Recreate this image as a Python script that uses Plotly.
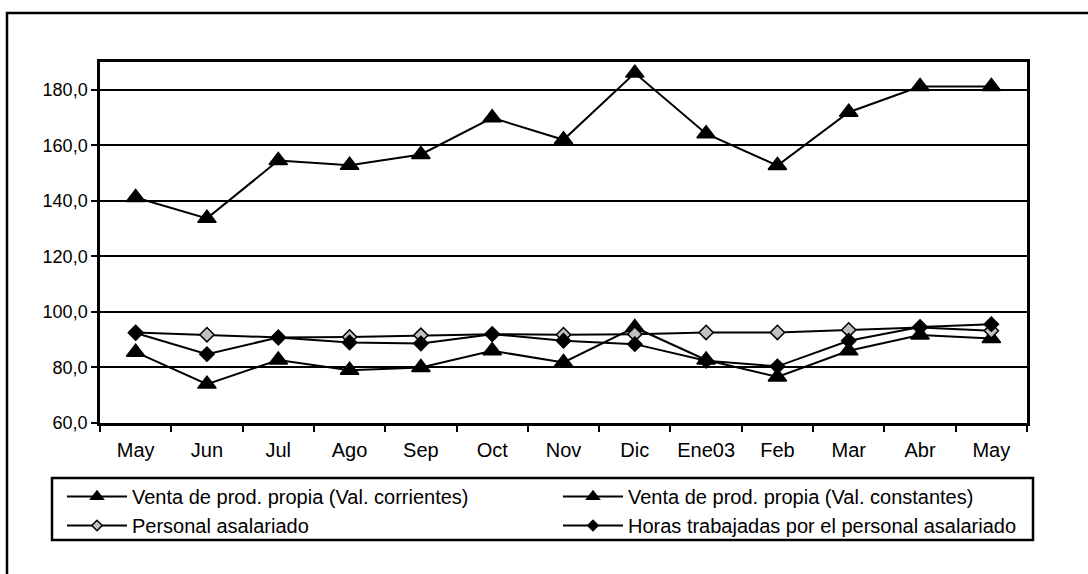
import plotly.graph_objects as go

months = ["May", "Jun", "Jul", "Ago", "Sep", "Oct", "Nov", "Dic", "Ene03", "Feb", "Mar", "Abr", "May"]
venta_corrientes = [141.2, 133.7, 154.5, 152.8, 156.7, 169.9, 162.0, 186.0, 164.2, 152.7, 171.9, 181.2, 181.2]
venta_constantes = [85.5, 74.0, 82.7, 79.0, 80.0, 86.0, 81.8, 94.4, 82.7, 76.6, 86.0, 91.7, 90.4]
personal_asalariado = [92.6, 91.8, 90.8, 91.0, 91.6, 92.0, 91.8, 92.0, 92.6, 92.6, 93.5, 94.4, 93.2]
horas_trabajadas = [92.4, 84.8, 90.8, 89.0, 88.6, 92.0, 89.6, 88.4, 82.4, 80.4, 89.6, 94.6, 95.6]

xpos = list(range(len(months)))

FONT = "Liberation Sans, Arial, sans-serif"
fig = go.Figure()

series = [
    ("Venta de prod. propia (Val. corrientes)", venta_corrientes, "triangle-up", "black", 16, 11),
    ("Venta de prod. propia (Val. constantes)", venta_constantes, "triangle-up", "black", 16, 11),
    ("Personal asalariado", personal_asalariado, "diamond", "#c0c0c0", 11, 8),
    ("Horas trabajadas por el personal asalariado", horas_trabajadas, "diamond", "black", 11, 8),
]

for name, y, symbol, fill, size, _ in series:
    fig.add_trace(go.Scatter(
        x=xpos, y=y, name=name, mode="lines+markers", showlegend=False,
        line=dict(color="black", width=2),
        marker=dict(symbol=symbol, size=size, color=fill, line=dict(color="black", width=1.5)),
    ))

# legend entries (smaller symbols, as in the reference legend)
for name, y, symbol, fill, _, lsize in series:
    fig.add_trace(go.Scatter(
        x=[None], y=[None], name=name, mode="lines+markers", showlegend=True,
        line=dict(color="black", width=2),
        marker=dict(symbol=symbol, size=lsize, color=fill, line=dict(color="black", width=1.5)),
    ))

W, H = 1088, 574
L, R, T, B = 100, 1027, 62, 423
def px(x):
    return (x - L) / (R - L)
def py(y):
    return (B - y) / (B - T)

fig.update_layout(
    width=W, height=H,
    margin=dict(l=L, r=W - R, t=T, b=H - B),
    paper_bgcolor="white", plot_bgcolor="white",
    separators=",.",
    font=dict(family=FONT, size=20, color="black"),
    showlegend=True,
    legend=dict(
        orientation="h", x=px(62), y=py(477), xanchor="left", yanchor="top",
        entrywidth=421, entrywidthmode="pixels", itemwidth=60, itemsizing="trace",
        font=dict(family=FONT, size=20, color="black"),
        bgcolor="rgba(0,0,0,0)", borderwidth=0, tracegroupgap=0,
    ),
    xaxis=dict(
        range=[-0.5, 12.5], tickmode="array", tickvals=xpos, ticktext=months,
        ticks="", showgrid=False, zeroline=False, ticklabelstandoff=7,
        showline=True, linecolor="black", linewidth=2.5, mirror=True,
        tickfont=dict(family=FONT, size=20, color="black"),
        minor=dict(tick0=0.5, dtick=1, ticks="outside", ticklen=6, tickwidth=2, tickcolor="black", showgrid=False),
    ),
    yaxis=dict(
        range=[60, 190], tick0=60, dtick=20, tickformat=".1f",
        ticks="outside", ticklen=6, tickwidth=2, tickcolor="black",
        showgrid=True, gridcolor="black", gridwidth=2, zeroline=False,
        showline=True, linecolor="black", linewidth=2.5, mirror=True,
        tickfont=dict(family=FONT, size=18, color="black"),
    ),
    shapes=[
        dict(type="rect", xref="paper", yref="paper",
             x0=px(7), x1=px(1100), y0=py(590), y1=py(13),
             line=dict(color="black", width=2.5), fillcolor="rgba(0,0,0,0)", layer="below"),
        dict(type="rect", xref="paper", yref="paper",
             x0=px(52), x1=px(1033), y0=py(540), y1=py(478),
             line=dict(color="black", width=2.5), fillcolor="rgba(0,0,0,0)", layer="below"),
    ],
)

fig.write_html("out.html", config={"displayModeBar": False},
               post_script="document.body.style.margin='0';document.body.style.overflow='hidden';")
